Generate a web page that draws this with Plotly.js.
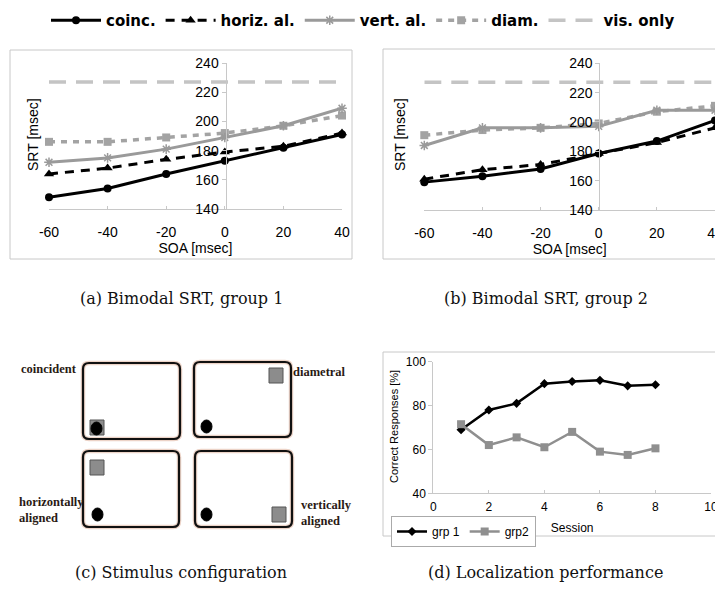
<!DOCTYPE html>
<html>
<head>
<meta charset="utf-8">
<script src="https://cdn.plot.ly/plotly-3.0.1.min.js"></script>
<style>html,body{margin:0;padding:0;background:#fff}#chart{width:715px;height:589px}</style>
</head>
<body>
<div id="chart"></div>
<script>
// ---------- data ----------
var soa = [-60, -40, -20, 0, 20, 40];
var seriesNames = ['coinc.', 'horiz. al.', 'vert. al.', 'diam.', 'vis. only'];
var g1Coinc = [148, 154, 164, 173, 182, 191];
var g1Horiz = [164, 168, 174, 179, 183, 192];
var g1Vert  = [172, 175, 181, 189, 197, 209];
var g1Diam  = [186, 186, 189, 192, 197, 204];
var g1Vis   = [227, 227, 227, 227, 227, 227];
var g2Coinc = [159, 163, 168, 178.5, 187, 201];
var g2Horiz = [161, 167.5, 171, 178.5, 186, 196];
var g2Vert  = [184, 196, 196, 197, 208, 208];
var g2Diam  = [191, 194.5, 196, 199, 207, 211];
var g2Vis   = [227, 227, 227, 227, 227, 227];
var sessions = [1, 2, 3, 4, 5, 6, 7, 8];
var grp1 = [69, 78, 81, 90, 91, 91.5, 89, 89.5];
var grp2 = [71.5, 62, 65.5, 61, 68, 59, 57.5, 60.5];
var soaTicks = [-60, -40, -20, 0, 20, 40];
var soaTickText = ['-60', '-40', '-20', '0', '20', '40'];
var srtTicks = [140, 160, 180, 200, 220, 240];
var captions = ['(a) Bimodal SRT, group 1', '(b) Bimodal SRT, group 2', '(c) Stimulus configuration', '(d) Localization performance'];
var configLabels = ['coincident', 'diametral', 'horizontally<br>aligned', 'vertically<br>aligned'];

// ---------- helpers (pixel -> paper) ----------
var W = 715, H = 589;
function X(px) { return px / W; }
function Y(py) { return 1 - py / H; }

var styles = [
  {line: {color: '#000', width: 3, dash: 'solid'}, marker: {symbol: 'circle', size: 8, color: '#000'}},
  {line: {color: '#000', width: 3, dash: '9px,7px'}, marker: {symbol: 'triangle-up', size: 9, color: '#000'}},
  {line: {color: '#9a9a9a', width: 3, dash: 'solid'}, marker: {symbol: 'asterisk-open', size: 8, color: '#9a9a9a', line: {width: 1.5, color: '#9a9a9a'}}},
  {line: {color: '#a3a3a3', width: 3.5, dash: '6px,6px'}, marker: {symbol: 'square', size: 8, color: '#a3a3a3'}},
  {line: {color: '#c4c4c4', width: 3.5, dash: '17px,10px'}, marker: {size: 0.1, opacity: 0}}
];

var traces = [];
function addGroup(vals, xa, ya, showleg) {
  var order = [4, 3, 2, 1, 0];
  order.forEach(function (i) {
    traces.push({
      x: soa, y: vals[i], xaxis: xa, yaxis: ya, type: 'scatter',
      mode: i === 4 ? 'lines' : 'lines+markers',
      name: seriesNames[i], legendrank: i + 1, showlegend: showleg,
      line: styles[i].line, marker: styles[i].marker, cliponaxis: false, hoverinfo: 'x+y'
    });
  });
}
addGroup([g1Coinc, g1Horiz, g1Vert, g1Diam, g1Vis], 'x', 'y', true);
addGroup([g2Coinc, g2Horiz, g2Vert, g2Diam, g2Vis], 'x2', 'y2', false);

traces.push({x: sessions, y: grp1, xaxis: 'x3', yaxis: 'y3', type: 'scatter', mode: 'lines+markers',
  name: 'grp 1', legend: 'legend2', line: {color: '#000', width: 2.5},
  marker: {symbol: 'diamond', size: 7, color: '#000'}, cliponaxis: false});
traces.push({x: sessions, y: grp2, xaxis: 'x3', yaxis: 'y3', type: 'scatter', mode: 'lines+markers',
  name: 'grp2', legend: 'legend2', line: {color: '#8f8f8f', width: 2.5},
  marker: {symbol: 'square', size: 8, color: '#8f8f8f'}, cliponaxis: false});

var axisGray = '#c8c8c8';
var sans = 'Liberation Sans, Arial, sans-serif';
var tickFont = {family: sans, size: 14, color: '#000'};
function srtY(domain, pos) {
  return {domain: domain, range: [140, 240], tickvals: srtTicks, anchor: 'free', position: pos,
    showline: true, linecolor: axisGray, linewidth: 1, ticks: 'outside', ticklen: 4, tickcolor: axisGray,
    showgrid: false, zeroline: false, tickfont: tickFont, fixedrange: true};
}
function soaX(domain, range, ya) {
  return {domain: domain, range: range, tickvals: soaTicks, ticktext: soaTickText, anchor: ya,
    showline: true, linecolor: axisGray, linewidth: 1, ticks: 'inside', ticklen: 3, tickcolor: axisGray,
    showgrid: false, zeroline: false, tickfont: tickFont, ticklabelstandoff: 10, ticklabeloverflow: 'allow',
    title: {text: 'SOA [msec]', font: {family: sans, size: 14, color: '#000'}, standoff: 2},
    fixedrange: true};
}

// ---------- shapes ----------
var shapes = [];
function frame(x0, y0, x1, y1) {
  shapes.push({type: 'rect', xref: 'paper', yref: 'paper', x0: X(x0), x1: X(x1), y0: Y(y1), y1: Y(y0),
    line: {color: '#c8c8c8', width: 1}, fillcolor: 'rgba(0,0,0,0)', layer: 'below'});
}
frame(10, 50, 352, 259);
frame(383, 49, 725, 259);
frame(383, 352, 725, 536);

function rrPath(x0, y0, x1, y1, r) {
  function p(x, y) { return X(x).toFixed(5) + ',' + Y(y).toFixed(5); }
  return 'M' + p(x0 + r, y0) + ' L' + p(x1 - r, y0) + ' Q' + p(x1, y0) + ' ' + p(x1, y0 + r) +
    ' L' + p(x1, y1 - r) + ' Q' + p(x1, y1) + ' ' + p(x1 - r, y1) +
    ' L' + p(x0 + r, y1) + ' Q' + p(x0, y1) + ' ' + p(x0, y1 - r) +
    ' L' + p(x0, y0 + r) + ' Q' + p(x0, y0) + ' ' + p(x0 + r, y0) + ' Z';
}
var boxes = [
  {b: [83, 363, 180, 439], c: [96.5, 428.5], s: [90, 420]},
  {b: [194, 362, 291, 437], c: [206.5, 426.5], s: [269, 368]},
  {b: [83, 451, 179, 527], c: [97.5, 514.5], s: [90, 460]},
  {b: [195, 451, 292, 527], c: [206.5, 514.5], s: [272, 507]}
];
boxes.forEach(function (bx) {
  var b = bx.b;
  shapes.push({type: 'path', xref: 'paper', yref: 'paper', path: rrPath(b[0], b[1], b[2], b[3], 6),
    line: {color: '#ecd3c7', width: 4.5}, fillcolor: 'rgba(0,0,0,0)'});
  shapes.push({type: 'path', xref: 'paper', yref: 'paper', path: rrPath(b[0], b[1], b[2], b[3], 6),
    line: {color: '#111', width: 2.2}, fillcolor: 'rgba(0,0,0,0)'});
  shapes.push({type: 'rect', xref: 'paper', yref: 'paper', x0: X(bx.s[0]), x1: X(bx.s[0] + 14),
    y0: Y(bx.s[1] + 15), y1: Y(bx.s[1]), line: {color: '#555', width: 1}, fillcolor: '#8c8c8c'});
  shapes.push({type: 'circle', xref: 'paper', yref: 'paper', x0: X(bx.c[0] - 5.5), x1: X(bx.c[0] + 5.5),
    y0: Y(bx.c[1] + 6.5), y1: Y(bx.c[1] - 6.5), line: {color: '#000', width: 1}, fillcolor: '#000'});
});

// ---------- annotations ----------
var ann = [];
ann.push({text: 'SRT [msec]', x: X(33), y: Y(135), textangle: -90, font: {family: sans, size: 14, color: '#000'}});
ann.push({text: 'SRT [msec]', x: X(400), y: Y(135), textangle: -90, font: {family: sans, size: 14, color: '#000'}});
ann.push({text: 'Correct Responses [%]', x: X(394), y: Y(427), textangle: -90, font: {family: sans, size: 11, color: '#000'}});
var capPos = [[181, 298], [546, 298], [181, 572], [545, 572]];
captions.forEach(function (t, i) {
  ann.push({text: t, x: X(capPos[i][0]), y: Y(capPos[i][1]), font: {family: 'DejaVu Serif, serif', size: 16, color: '#111'}});
});
var serifB = {family: 'Liberation Serif, Times New Roman, serif', size: 12.5, color: '#2a1a14', weight: 'bold'};
ann.push({text: configLabels[0], x: X(49), y: Y(369), font: serifB});
ann.push({text: configLabels[1], x: X(319), y: Y(371.5), font: serifB});
ann.push({text: configLabels[2], x: X(17), y: Y(510), xanchor: 'left', align: 'left', font: serifB});
ann.push({text: configLabels[3], x: X(299), y: Y(512.5), xanchor: 'left', align: 'left', font: serifB});
ann.forEach(function (a) { a.xref = 'paper'; a.yref = 'paper'; a.showarrow = false; if (!a.xanchor) a.xanchor = 'center'; a.yanchor = 'middle'; });

var layout = {
  width: W, height: H, margin: {l: 0, r: 0, t: 0, b: 0},
  paper_bgcolor: '#fff', plot_bgcolor: 'rgba(0,0,0,0)',
  font: {family: sans, color: '#000'},
  xaxis: soaX([X(49), X(342)], [-60, 40], 'y'),
  yaxis: srtY([Y(209), Y(63)], X(225.5)),
  xaxis2: soaX([X(424.3), 1], [-60, 40], 'y2'),
  yaxis2: srtY([Y(210), Y(63.3)], X(599.3)),
  xaxis3: {domain: [X(433.3), X(711)], range: [0, 10], dtick: 2, anchor: 'y3',
    showline: true, linecolor: axisGray, ticks: 'inside', ticklen: 3, tickcolor: axisGray,
    showgrid: false, zeroline: false, ticklabeloverflow: 'allow', ticklabelstandoff: 2,
    tickfont: {family: sans, size: 12, color: '#000'},
    title: {text: 'Session', font: {family: sans, size: 12, color: '#000'}, standoff: 10}, fixedrange: true},
  yaxis3: {domain: [Y(493.3), Y(361.7)], range: [40, 100], dtick: 20, anchor: 'x3',
    showline: true, linecolor: axisGray, ticks: 'outside', ticklen: 4, tickcolor: axisGray,
    showgrid: false, zeroline: false, tickfont: {family: sans, size: 12, color: '#000'}, fixedrange: true},
  showlegend: true,
  legend: {orientation: 'h', x: X(46), y: Y(4), xanchor: 'left', yanchor: 'top',
    font: {family: 'DejaVu Sans, sans-serif', size: 15, color: '#000', weight: 'bold'},
    bgcolor: 'rgba(0,0,0,0)', itemwidth: 50, traceorder: 'normal'},
  legend2: {orientation: 'h', x: X(391), y: Y(516), xanchor: 'left', yanchor: 'top',
    font: {family: sans, size: 12, color: '#000'},
    bgcolor: '#fff', bordercolor: '#aaa', borderwidth: 1, itemwidth: 30},
  shapes: shapes,
  annotations: ann
};

Plotly.newPlot('chart', traces, layout, {displayModeBar: false, staticPlot: true});
</script>
</body>
</html>
